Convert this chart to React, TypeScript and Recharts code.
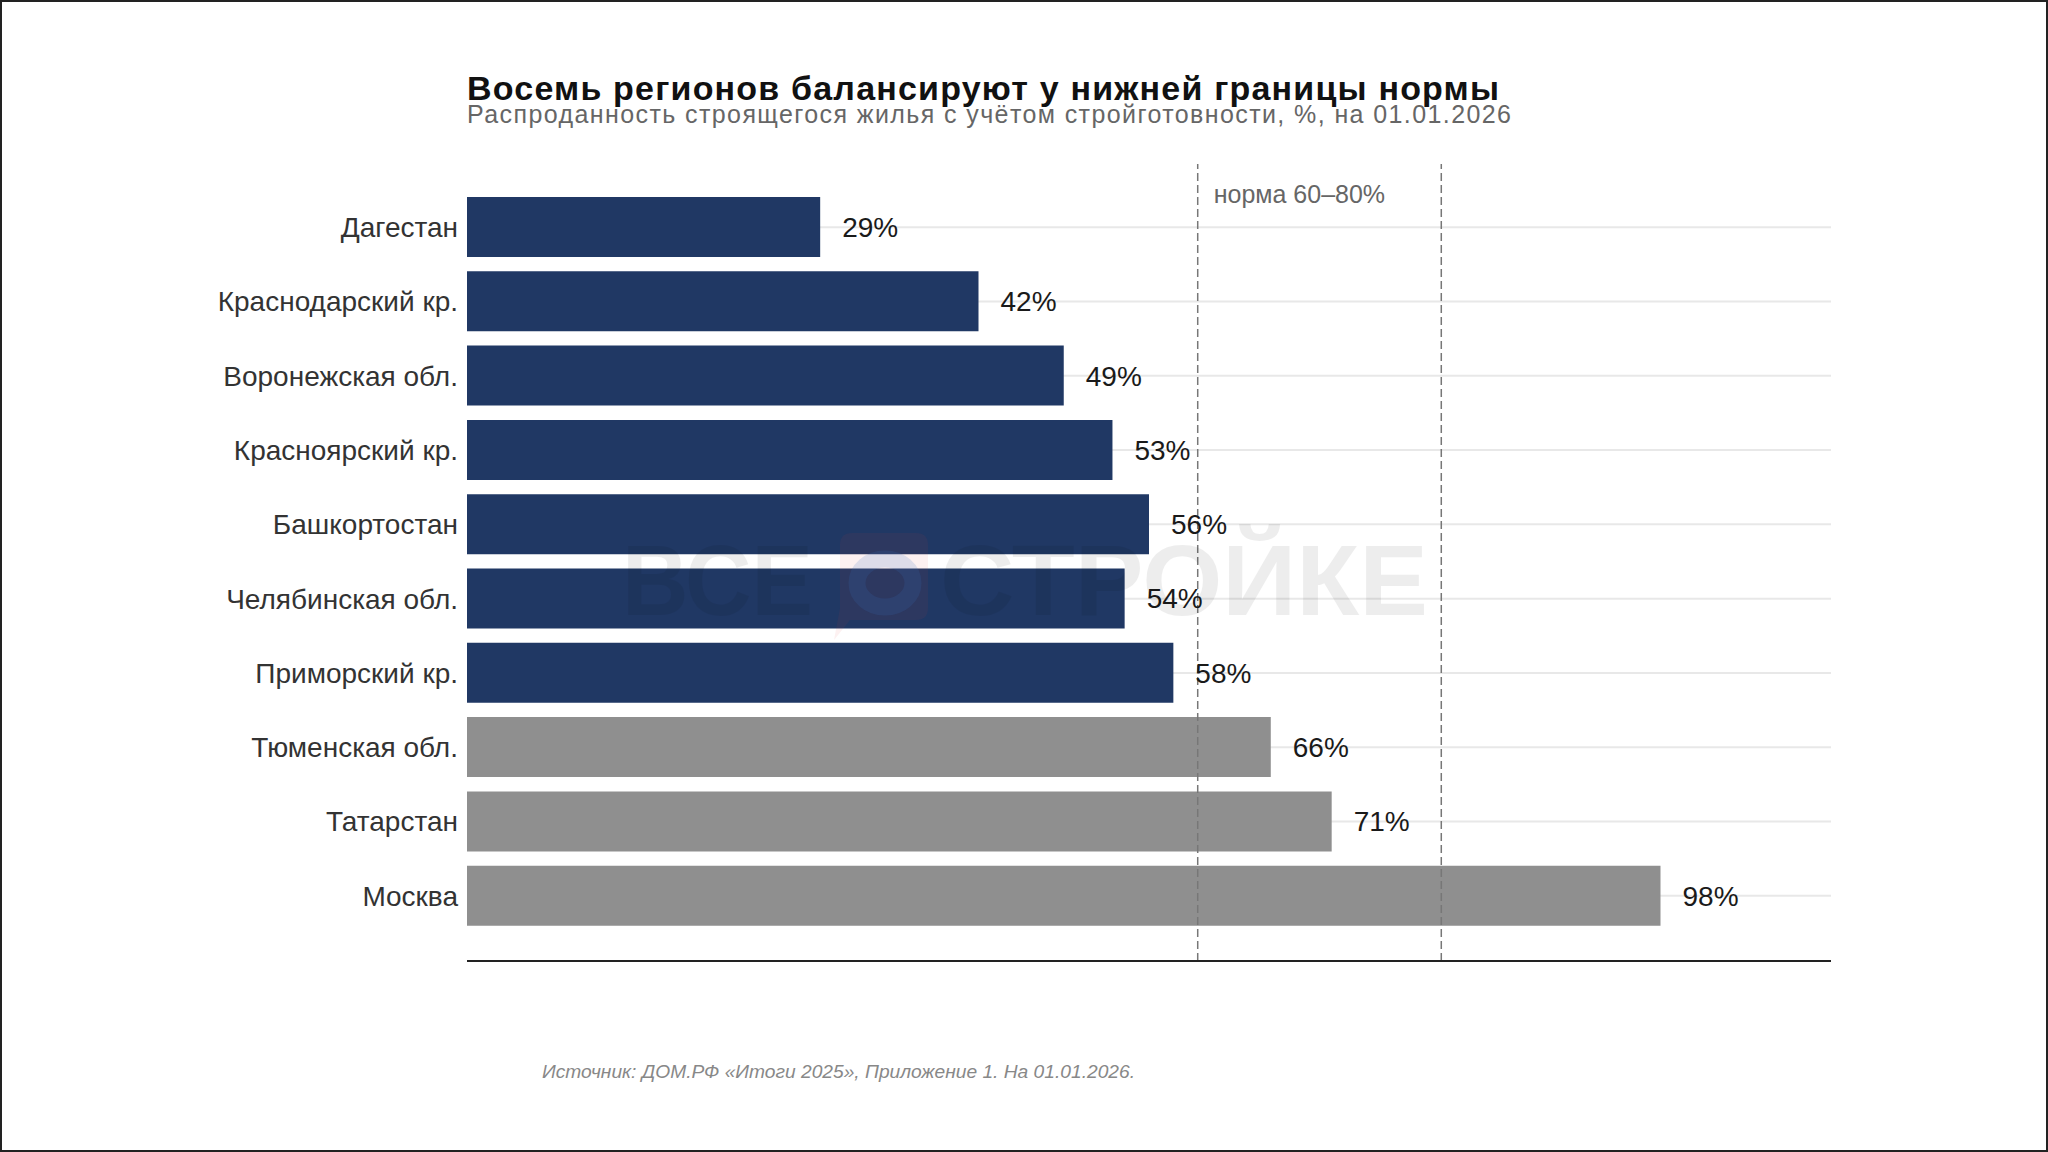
import React from 'react';
import { BarChart, Bar, XAxis, YAxis, CartesianGrid, ReferenceLine, LabelList, Cell } from 'recharts';

const categories = [
  'Дагестан',
  'Краснодарский кр.',
  'Воронежская обл.',
  'Красноярский кр.',
  'Башкортостан',
  'Челябинская обл.',
  'Приморский кр.',
  'Тюменская обл.',
  'Татарстан',
  'Москва',
];
const values = [29, 42, 49, 53, 56, 54, 58, 66, 71, 98];
const normLow = 60;
const normHigh = 80;
const xDomainMax = 112;

const title = 'Восемь регионов балансируют у нижней границы нормы';
const subtitle = 'Распроданность строящегося жилья с учётом стройготовности, %, на 01.01.2026';
const normLabel = 'норма 60–80%';
const source = 'Источник: ДОМ.РФ «Итоги 2025», Приложение 1. На 01.01.2026.';

const data = categories.map((name, i) => ({ name, value: values[i] }));

const FONT = '"Liberation Sans", Arial, Helvetica, sans-serif';
const NAVY = '#203864';
const GRAY = '#8f8f8f';

const NormLabel = (props: any) => {
  const vb = props.viewBox || {};
  return (
    <text x={vb.x + 16} y={vb.y + 39} fontSize={25} fill="#666" fontFamily={FONT}>
      {normLabel}
    </text>
  );
};

export default function App() {
  return (
    <div
      style={{
        position: 'absolute',
        left: 0,
        top: 0,
        width: 2048,
        height: 1152,
        boxSizing: 'border-box',
        border: '2px solid #222',
        background: '#fff',
        overflow: 'hidden',
      }}
    >
      <div style={{ position: 'absolute', left: -2, top: -2, width: 2048, height: 1152 }}>
        <BarChart
          width={2048}
          height={1152}
          data={data}
          layout="vertical"
          margin={{ top: 164, right: 217, bottom: 190, left: 0 }}
          barSize={60}
        >
          <CartesianGrid horizontal={true} vertical={false} syncWithTicks={true} stroke="#e8e8e8" strokeWidth={2} />
          <XAxis
            type="number"
            domain={[0, xDomainMax]}
            height={1}
            tick={false}
            tickLine={false}
            axisLine={{ stroke: '#222', strokeWidth: 2 }}
          />
          <YAxis
            type="category"
            dataKey="name"
            width={467}
            axisLine={false}
            tickLine={false}
            tickSize={0}
            tickMargin={9}
            padding={{ top: 26, bottom: 28 }}
            interval={0}
            tick={{ fontSize: 28, fill: '#333', fontFamily: FONT }}
          />
          <Bar dataKey="value" isAnimationActive={false}>
            {data.map((d, i) => (
              <Cell key={i} fill={d.value < normLow ? NAVY : GRAY} />
            ))}
            <LabelList
              dataKey="value"
              position="right"
              offset={22}
              formatter={(v: any) => `${v}%`}
              style={{ fontSize: 28, fill: '#1a1a1a', fontFamily: FONT }}
            />
          </Bar>
          <ReferenceLine
            x={normLow}
            stroke="#777"
            strokeWidth={1.5}
            strokeDasharray="8 4"
            label={<NormLabel />}
          />
          <ReferenceLine x={normHigh} stroke="#777" strokeWidth={1.5} strokeDasharray="8 4" />
        </BarChart>
      </div>
      <svg
        width={2048}
        height={1152}
        style={{ position: 'absolute', left: -2, top: -2, pointerEvents: 'none' }}
      >
        <g fontFamily={FONT} fontWeight="bold" fontSize={100}>
          <text x={622} y={615} fill="#000" opacity={0.065} textLength={191} lengthAdjust="spacingAndGlyphs">
            ВСЕ
          </text>
          <path
            d="M852 533 H916 Q928 533 928 545 V608 Q928 620 916 620 H850 L834 640 L840 608 V545 Q840 533 852 533 Z"
            fill="#e53935"
            opacity={0.07}
          />
          <ellipse cx={885} cy={583} rx={28} ry={24} fill="none" stroke="#3a6fc0" strokeWidth={17} opacity={0.16} />
          <text x={940} y={615} fill="#000" opacity={0.065} textLength={488} lengthAdjust="spacingAndGlyphs">
            СТРОЙКЕ
          </text>
        </g>
        <text
          x={467}
          y={100}
          fontFamily={FONT}
          fontWeight="bold"
          fontSize={34}
          fill="#111"
          textLength={1032}
          lengthAdjust="spacing"
        >
          {title}
        </text>
        <text
          x={467}
          y={123}
          fontFamily={FONT}
          fontSize={25}
          fill="#666"
          textLength={1044}
          lengthAdjust="spacing"
        >
          {subtitle}
        </text>
        <text x={542} y={1078} fontFamily={FONT} fontStyle="italic" fontSize={19.2} fill="#888">
          {source}
        </text>
      </svg>
    </div>
  );
}
